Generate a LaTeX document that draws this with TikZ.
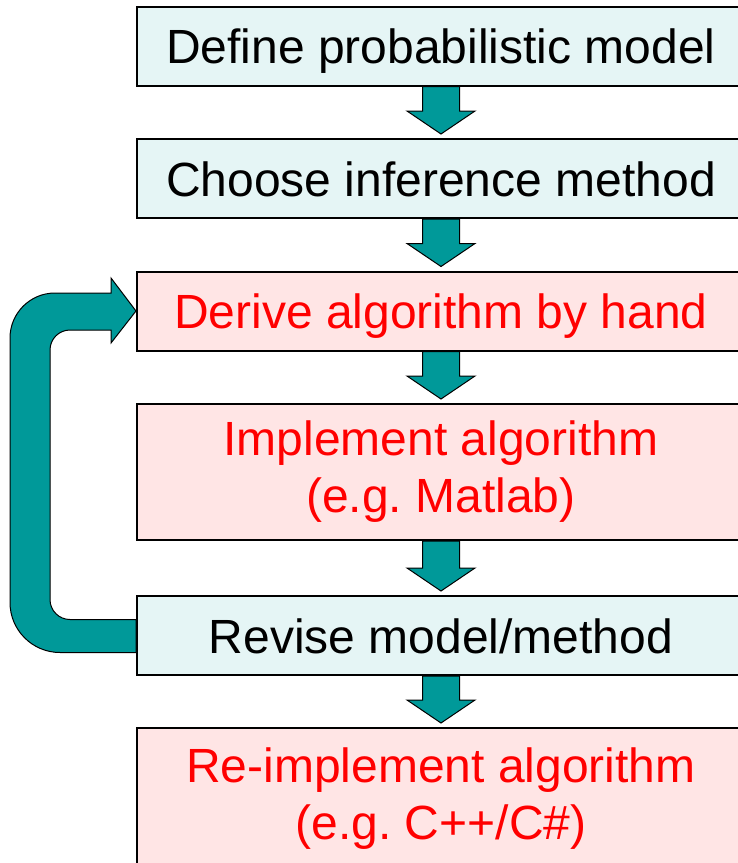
\documentclass[tikz,border=0pt]{standalone}
\usepackage{fontspec}
\setmainfont{Liberation Sans}
\usetikzlibrary{calc}
\definecolor{planfill}{RGB}{229,245,245}
\definecolor{handfill}{RGB}{255,229,229}
\definecolor{arrteal}{RGB}{0,153,153}
\frenchspacing

\begin{document}
\begin{tikzpicture}[x=1pt, y=-1pt,
  bx/.style={draw, line width=2pt, minimum width=608pt, minimum height=79pt,
    inner sep=0pt, align=center, font=\fontsize{48}{57}\selectfont},
  one/.style={text height=35pt, text depth=0pt},
  plan/.style={bx, fill=planfill},
  hand/.style={bx, fill=handfill, text=red},
  blk/.style={draw, line width=1pt, fill=arrteal, line join=miter}]
\useasboundingbox (0,0) rectangle (738,863);
\clip (0,0) rectangle (738,863);
\node[plan, one] (def) at (441,46) {Define probabilistic model};
\node[plan, one] (cho) at (441,178.5) {Choose inference method};
\node[hand, one] (der) at (441,311) {Derive algorithm by hand};
\node[hand, minimum height=136pt] (imp) at (441,472) {Implement algorithm\\(e.g. Matlab)};
\node[plan, one] (rev) at (441,635.5) {Revise model/method};
\node[hand, minimum height=142pt] (rei) at (441,799) {Re-implement algorithm\\(e.g. C++/C\#)};
% block arrows down the chain
\foreach \a/\b in {def/cho, cho/der, der/imp, imp/rev, rev/rei}{
  \draw[blk] ($(\a.south)+(-18.5,0)$) -- ($(\b.north)+(-18.5,-27)$)
    -- ($(\b.north)+(-34,-27)$) -- ($(\b.north)+(0,-4)$)
    -- ($(\b.north)+(34,-27)$) -- ($(\b.north)+(18.5,-27)$)
    -- ($(\a.south)+(18.5,0)$) -- cycle;}
% loop back from revise to derive
\coordinate (lo) at (10,0);
\coordinate (li) at (50,0);
\coordinate (rb) at ($(rev.west)+(0,17)$);
\coordinate (rt) at ($(rev.west)+(0,-16)$);
\coordinate (dt) at ($(der.west)+(0,-18)$);
\coordinate (db) at ($(der.west)+(0,19)$);
\draw[blk] (rb) -- ($(lo |- rb)+(50,0)$) arc[start angle=90, end angle=180, radius=50]
  -- ($(lo |- dt)+(0,45)$) arc[start angle=180, end angle=270, radius=45]
  -- ($(dt)+(-25,0)$) -- ($(der.west)+(-25,-33)$) -- (der.west)
  -- ($(der.west)+(-25,32)$) -- ($(db)+(-25,0)$)
  -- ($(li |- db)+(20,0)$) arc[start angle=270, end angle=180, radius=20]
  -- ($(li |- rt)+(0,-20)$) arc[start angle=180, end angle=90, radius=20]
  -- (rt) -- cycle;
\end{tikzpicture}
\end{document}
